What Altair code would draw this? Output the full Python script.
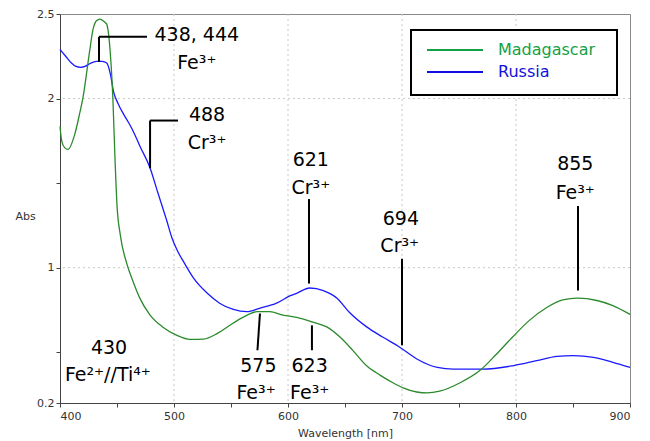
import altair as alt
import pandas as pd

# ---- spectra ----
mad_wl = [400, 401.5, 404, 407, 413, 417.5, 420, 426, 429, 432, 435, 439.5, 441, 442, 444,
          446.5, 448, 450, 453, 458.8, 464, 470, 479, 490, 502.6, 514, 526, 537.7, 549,
          560.5, 572.8, 584, 595.6, 607.6, 621, 634, 645.6, 657, 669, 680.7, 692, 701, 713,
          722, 733, 751, 768, 783, 797, 812, 827, 841, 854, 871, 885, 900]
mad_abs = [1.835, 1.75, 1.71, 1.70, 1.79, 1.92, 2.00, 2.28, 2.41, 2.46, 2.47, 2.45, 2.44, 2.41, 2.28,
           1.98, 1.69, 1.37, 1.19, 1.02, 0.92, 0.82, 0.72, 0.65, 0.60, 0.576, 0.578, 0.61, 0.66,
           0.706, 0.74, 0.74, 0.72, 0.706, 0.68, 0.65, 0.59, 0.51, 0.42, 0.365, 0.32, 0.29, 0.265,
           0.26, 0.27, 0.32, 0.39, 0.49, 0.59, 0.69, 0.765, 0.81, 0.82, 0.806, 0.776, 0.724]

rus_wl = [400, 405, 410, 414, 418, 422, 427, 432, 437, 441, 444, 447, 451, 456, 460, 464, 470,
          479, 486, 494, 498, 503, 508, 517, 529, 540, 552, 564, 575, 590, 602, 608, 619, 631,
          643, 654, 669, 683, 698, 713, 731, 745, 771, 797, 818, 836, 850, 868, 885, 900]
rus_abs = [2.29, 2.25, 2.21, 2.19, 2.185, 2.19, 2.21, 2.22, 2.22, 2.21, 2.15, 2.04, 1.97, 1.905,
           1.86, 1.81, 1.72, 1.59, 1.44, 1.27, 1.18, 1.10, 1.04, 0.94, 0.85, 0.79, 0.753, 0.74,
           0.76, 0.79, 0.835, 0.85, 0.88, 0.865, 0.82, 0.735, 0.65, 0.59, 0.53, 0.46, 0.41, 0.40,
           0.40, 0.42, 0.45, 0.476, 0.48, 0.47, 0.44, 0.41]

# ---- annotations ----
ann_num_text = ["438, 444", "488", "621", "694", "855", "575", "623", "430"]
ann_num_x = [520, 529, 620, 699, 852, 574, 619, 443]
ann_num_y = [2.375, 1.90, 1.635, 1.288, 1.612, 0.418, 0.418, 0.523]
ann_ion_text = ["Fe³⁺", "Cr³⁺", "Cr³⁺", "Cr³⁺", "Fe³⁺", "Fe³⁺", "Fe³⁺", "Fe²⁺//Ti⁴⁺"]
ann_ion_x = [520, 529, 620, 698, 852, 572, 619, 442]
ann_ion_y = [2.21, 1.737, 1.472, 1.131, 1.443, 0.257, 0.257, 0.368]

# leader line segments (wavelength, abs)
seg_x1 = [434.2, 434.2, 479, 479, 618.4, 700, 854.4, 575.4, 621]
seg_x2 = [434.2, 476.3, 503.5, 479, 618.4, 700, 854.4, 573.2, 621]
seg_y1 = [2.365, 2.365, 1.87, 1.87, 1.406, 1.053, 1.365, 0.729, 0.659]
seg_y2 = [2.218, 2.365, 1.87, 1.588, 0.906, 0.541, 0.865, 0.512, 0.512]

grid_x = [500, 600, 700, 800]
grid_y = [1, 2]
x_ticks = [400, 450, 500, 550, 600, 650, 700, 750, 800, 850, 900]
y_ticks = [0.2, 0.5, 1, 1.5, 2, 2.5]

series_names = ["Madagascar", "Russia"]
curve_colors = ["#2b8a2b", "#1a1aff"]
legend_colors = ["#14a046", "#1010e0"]

FONT = "DejaVu Sans"

mad_df = pd.DataFrame({"wl": mad_wl, "abs": mad_abs})
rus_df = pd.DataFrame({"wl": rus_wl, "abs": rus_abs})
num_df = pd.DataFrame({"x": ann_num_x, "y": ann_num_y, "t": ann_num_text})
ion_df = pd.DataFrame({"x": ann_ion_x, "y": ann_ion_y, "t": ann_ion_text})
seg_df = pd.DataFrame({"x1": seg_x1, "x2": seg_x2, "y1": seg_y1, "y2": seg_y2})
gx_df = pd.DataFrame({"g": grid_x})
gy_df = pd.DataFrame({"g": grid_y})

xs = alt.Scale(domain=[400, 900], nice=False, zero=False)
ys = alt.Scale(domain=[0.2, 2.5], nice=False, zero=False)

x_axis = alt.Axis(values=x_ticks, format="d", labelExpr="datum.value % 100 == 0 ? datum.label : ''",
                  title="Wavelength [nm]", grid=False, tickSize=4, labelPadding=3,
                  titlePadding=6, labelFontSize=11, titleFontSize=11)
y_axis = alt.Axis(values=y_ticks, format="~g",
                  labelExpr="datum.value == 0.5 || datum.value == 1.5 ? '' : datum.label",
                  title="Abs", titleAngle=0, titleAlign="left", titleBaseline="middle",
                  titleX=-45, titleY=202, grid=False, tickSize=4, labelPadding=2,
                  labelFontSize=11, titleFontSize=11)

gridx = alt.Chart(gx_df).mark_rule(color="#c8c8c8", strokeDash=[2, 3], strokeWidth=1).encode(
    x=alt.X("g:Q", scale=xs, axis=x_axis))
gridy = alt.Chart(gy_df).mark_rule(color="#c8c8c8", strokeDash=[2, 3], strokeWidth=1).encode(
    y=alt.Y("g:Q", scale=ys, axis=y_axis))

rus_line = alt.Chart(rus_df).mark_line(color=curve_colors[1], strokeWidth=1.3, interpolate="monotone").encode(
    x=alt.X("wl:Q", scale=xs), y=alt.Y("abs:Q", scale=ys))
mad_line = alt.Chart(mad_df).mark_line(color=curve_colors[0], strokeWidth=1.3, interpolate="monotone").encode(
    x=alt.X("wl:Q", scale=xs), y=alt.Y("abs:Q", scale=ys))

segs = alt.Chart(seg_df).mark_rule(color="black", strokeWidth=2).encode(
    x=alt.X("x1:Q", scale=xs), x2="x2:Q", y=alt.Y("y1:Q", scale=ys), y2="y2:Q")

num_txt = alt.Chart(num_df).mark_text(font=FONT, fontSize=19, color="black", align="center",
                                      baseline="middle").encode(
    x=alt.X("x:Q", scale=xs), y=alt.Y("y:Q", scale=ys), text="t:N")
ion_txt = alt.Chart(ion_df).mark_text(font=FONT, fontSize=19, color="black", align="center",
                                      baseline="middle").encode(
    x=alt.X("x:Q", scale=xs), y=alt.Y("y:Q", scale=ys), text="t:N")

one = alt.Data(values=[{"k": 1}])
leg_box = alt.Chart(one).mark_rect(fill="white", stroke="black", strokeWidth=2).encode(
    x=alt.value(351), x2=alt.value(557), y=alt.value(16), y2=alt.value(81))
leg_l1 = alt.Chart(one).mark_rule(color=legend_colors[0], strokeWidth=2).encode(
    x=alt.value(367), x2=alt.value(423), y=alt.value(36))
leg_l2 = alt.Chart(one).mark_rule(color=legend_colors[1], strokeWidth=2).encode(
    x=alt.value(367), x2=alt.value(423), y=alt.value(58))
leg_t1 = alt.Chart(one).mark_text(font=FONT, fontSize=16, align="left", baseline="middle",
                                  color=legend_colors[0]).encode(
    x=alt.value(438), y=alt.value(36), text=alt.value(series_names[0]))
leg_t2 = alt.Chart(one).mark_text(font=FONT, fontSize=16, align="left", baseline="middle",
                                  color=legend_colors[1]).encode(
    x=alt.value(438), y=alt.value(58), text=alt.value(series_names[1]))

chart = alt.layer(gridx, gridy, rus_line, mad_line, segs, num_txt, ion_txt,
                  leg_box, leg_l1, leg_l2, leg_t1, leg_t2).properties(
    width=570, height=389,
    autosize=alt.AutoSizeParams(type="none"),
    padding={"left": 52, "top": 6, "right": 12, "bottom": 38},
).configure_view(stroke="#8a8a8a", strokeWidth=1).configure_axis(
    labelFont=FONT, titleFont=FONT, labelColor="#333333", titleColor="#333333",
    titleFontWeight="normal", domainColor="#444444", tickColor="#444444"
)

chart.save("out.html", embed_options={"renderer": "svg", "actions": False})
